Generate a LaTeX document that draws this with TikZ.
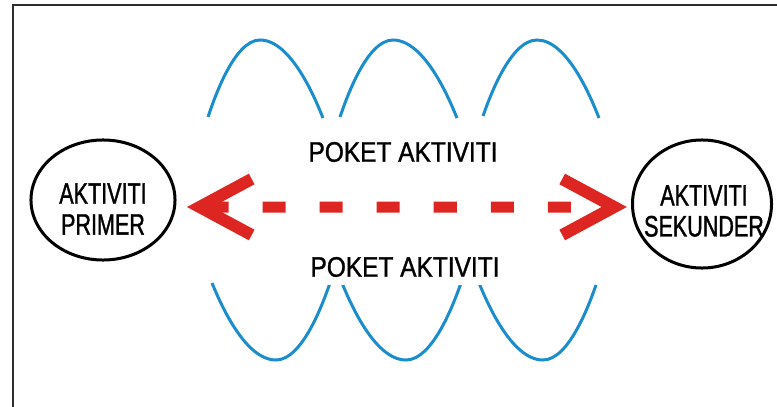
\documentclass[tikz,border=0pt]{standalone}
\usepackage{fontspec}
\setmainfont{Liberation Sans}
\newfontfamily\poketfont[FakeStretch=0.87, FakeBold=1.2]{Liberation Sans}
\newfontfamily\ovalfont[FakeStretch=0.73, FakeBold=1.2]{Liberation Sans}
\usetikzlibrary{shapes.geometric,arrows.meta}
\definecolor{wave}{RGB}{27,141,204}
\definecolor{arrowred}{RGB}{221,38,34}
\definecolor{frameg}{RGB}{45,45,45}
\tikzset{
  oval/.style={ellipse, draw, line width=0.075cm, inner sep=0pt, outer sep=0pt},
  ovaltext/.style={align=center, inner sep=0pt, font=\ovalfont\fontsize{21}{22}\selectfont},
  poket/.style={fill=white, inner sep=0.2cm, font=\poketfont\fontsize{20}{24}\selectfont},
  wavy/.style={wave, line width=0.075cm},
  redtip/.tip={Straight Barb[length=1.3cm, width=1.4cm, line width=0.3cm]},
  redarrow/.style={arrowred, line width=0.275cm, arrows=redtip-redtip,
    dash pattern=on 0.575cm off 0.85cm, dash phase=0cm,
    shorten <=0.3cm, shorten >=0.14cm},
}
\begin{document}
\begin{tikzpicture}[x=0.025cm, y=-0.025cm]
  \clip (0,0) rectangle (777,407);
  \draw[frameg, line width=0.05cm] (13,5) rectangle (800,430);
  % waves above
  \begin{scope}[wavy]
    \draw (208,117) parabola bend (260,40) (323,118);
    \draw (340,117) parabola bend (393,40) (457,118);
    \draw (483,116) parabola bend (537,40) (599,118);
  \end{scope}
  % waves below
  \begin{scope}[wavy]
    \draw (212,283) parabola bend (276,360) (330,283);
    \draw (342,283) parabola bend (406,360) (461,283);
    \draw (479,283) parabola bend (543,360) (596,285);
  \end{scope}
  \node[poket] (poketup) at (403,152) {POKET AKTIVITI};
  \node[poket] (poketdown) at (405,267) {POKET AKTIVITI};
  % the two activities
  \node[oval, minimum width=3.6cm, minimum height=3.0cm] (prim) at (103,200) {};
  \node[oval, minimum width=3.475cm, minimum height=3.2cm] (sek) at (702,204) {};
  \node[ovaltext] (primtext) at (103,209) {AKTIVITI\\PRIMER};
  \node[ovaltext] (sektext) at (704,211) {AKTIVITI\\SEKUNDER};
  \draw[redarrow] ([yshift=-0.175cm]prim.east) -- ([yshift=-0.075cm]sek.west);
\end{tikzpicture}
\end{document}
